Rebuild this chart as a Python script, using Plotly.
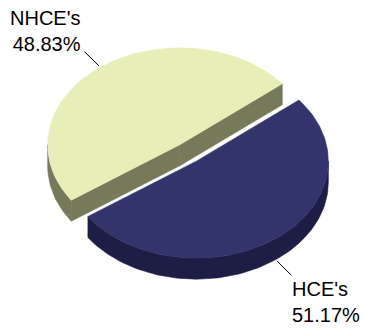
import numpy as np
import plotly.graph_objects as go

# Data
labels = ["NHCE's", "HCE's"]
values = [48.83, 51.17]
top_colors = ["#E7EEB7", "#34346C"]
side_colors = ["#76795A", "#1D1D45"]

# Tilted-pie geometry (screen pixels)
CX, CY = 188.0, 153.0      # centre of the un-exploded pie
RX, RY = 132.0, 97.0       # ellipse radii of the top face
DEPTH = 21.0               # visible thickness of the disc
EXPLODE = 0.105            # slice pull-out, as a fraction of the radius
START = 39.0               # angle where the first slice starts (deg, counter-clockwise)

W, H = 365, 329


def rim(cx, cy, ang, r=1.0, dz=0.0):
    t = np.radians(ang)
    return cx + RX * r * np.cos(t), cy - RY * r * np.sin(t) + dz


def arc(cx, cy, a0, a1, dz=0.0, n=None):
    if n is None:
        n = max(4, int(abs(a1 - a0) / 1.5))
    angs = np.linspace(a0, a1, n)
    xs, ys = rim(cx, cy, angs, dz=dz)
    return list(xs), list(ys)


total = sum(values)
slices = []
a = START
for lab, v, tc, sc in zip(labels, values, top_colors, side_colors):
    span = 360.0 * v / total
    a0, a1 = a, a + span
    mid = (a0 + a1) / 2
    cx = CX + EXPLODE * RX * np.cos(np.radians(mid))
    cy = CY - EXPLODE * RY * np.sin(np.radians(mid))
    slices.append(dict(label=lab, value=v, a0=a0, a1=a1, mid=mid,
                       cx=cx, cy=cy, top=tc, side=sc))
    a = a1

fig = go.Figure()


def poly(xs, ys, color):
    fig.add_trace(go.Scatter(
        x=list(xs) + [xs[0]], y=list(ys) + [ys[0]], mode="lines",
        fill="toself", fillcolor=color,
        line=dict(color=color, width=0.6),
        hoverinfo="skip", showlegend=False))


# back slices first
for s in sorted(slices, key=lambda d: d["cy"]):
    cx, cy, a0, a1 = s["cx"], s["cy"], s["a0"], s["a1"]
    # radial cut faces facing the viewer
    for ang, visible in ((a0, np.cos(np.radians(a0)) > 0),
                         (a1, np.cos(np.radians(a1)) < 0)):
        if visible:
            px, py = rim(cx, cy, ang)
            poly([cx, px, px, cx], [cy, py, py + DEPTH, cy + DEPTH], s["side"])
    # front part of the outer rim
    for k in range(-1, 3):
        lo, hi = max(a0, 180 + 360 * k), min(a1, 360 + 360 * k)
        if hi > lo:
            tx, ty = arc(cx, cy, lo, hi)
            bx, by = arc(cx, cy, hi, lo, dz=DEPTH)
            poly(tx + bx, ty + by, s["side"])
    # top face
    ax, ay = arc(cx, cy, a0, a1)
    poly([cx] + ax, [cy] + ay, s["top"])

# leader lines and labels
for s in slices:
    m = s["mid"]
    front = np.sin(np.radians(m)) < 0
    dz = DEPTH if front else 0.0
    x0, y0 = rim(s["cx"], s["cy"], m, 1.02, dz)
    x1, y1 = rim(s["cx"], s["cy"], m, 1.2, dz)
    fig.add_trace(go.Scatter(x=[x0, x1], y=[y0, y1], mode="lines",
                             line=dict(color="#000000", width=1),
                             hoverinfo="skip", showlegend=False))
    right_side = np.cos(np.radians(m)) > 0
    text = f"{s['label']}<br>{s['value']:.2f}%"
    if right_side:
        fig.add_annotation(x=x1 - 1, y=y1 + 1, text=text, showarrow=False,
                           xanchor="left", yanchor="top", align="left",
                           font=dict(family="Liberation Sans, Arial", size=20, color="#000000"))
    else:
        fig.add_annotation(x=x1 - 2, y=y1 + 5, text=text, showarrow=False,
                           xanchor="right", yanchor="bottom", align="right",
                           font=dict(family="Liberation Sans, Arial", size=20, color="#000000"))

fig.update_xaxes(range=[0, W], visible=False, fixedrange=True)
fig.update_yaxes(range=[H, 0], visible=False, fixedrange=True)
fig.update_layout(width=W, height=H, margin=dict(l=0, r=0, t=0, b=0),
                  paper_bgcolor="#FFFFFF", plot_bgcolor="#FFFFFF",
                  showlegend=False)

fig.write_html("out.html")
